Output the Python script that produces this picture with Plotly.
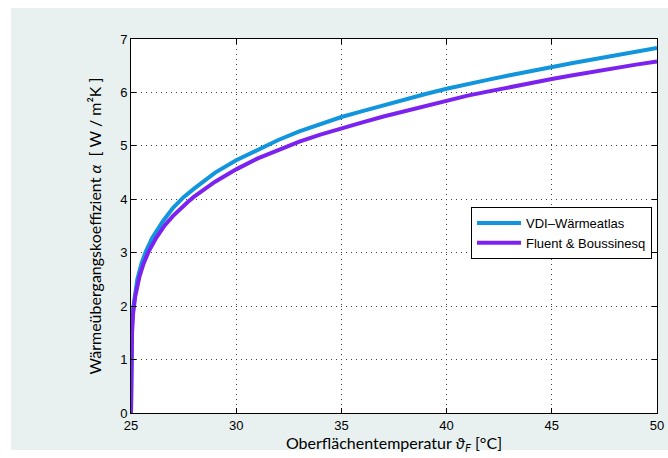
import plotly.graph_objects as go

# Oberflächentemperatur (°C)
temp_vdi = [25.0, 25.01, 25.05, 25.1, 25.2, 25.3, 25.5, 25.7, 26.0, 26.5, 27.0, 27.5, 28.0,
            29.0, 30.0, 31.0, 32.0, 33.0, 34.0, 35.0, 36.0, 37.0, 38.0, 39.0, 40.0,
            41.0, 42.0, 43.0, 44.0, 45.0, 46.0, 47.0, 48.0, 49.0, 50.0]
alpha_vdi = [0.0, 1.3, 1.7, 1.95, 2.3, 2.5, 2.8, 3.02, 3.27, 3.58, 3.84, 4.04, 4.2,
             4.5, 4.73, 4.93, 5.11, 5.27, 5.41, 5.54, 5.65, 5.76, 5.87, 5.97, 6.07,
             6.16, 6.24, 6.32, 6.40, 6.48, 6.55, 6.62, 6.69, 6.76, 6.83]

temp_fluent = [25.0, 25.02, 25.05, 25.1, 25.2, 25.4, 25.6, 25.85, 26.2, 26.6, 27.0, 27.7,
               28.0, 29.0, 30.0, 31.0, 32.0, 33.0, 34.0, 35.0, 36.0, 37.0, 38.0, 39.0,
               40.0, 41.0, 42.0, 43.0, 44.0, 45.0, 46.0, 47.0, 48.0, 49.0, 50.0]
alpha_fluent = [0.0, 1.0, 1.5, 1.86, 2.18, 2.55, 2.8, 3.03, 3.28, 3.51, 3.69, 3.95,
                4.05, 4.33, 4.56, 4.76, 4.93, 5.08, 5.21, 5.33, 5.44, 5.55, 5.65, 5.75,
                5.85, 5.94, 6.02, 6.10, 6.18, 6.25, 6.32, 6.39, 6.46, 6.52, 6.58]

x_ticks = [25, 30, 35, 40, 45, 50]
y_ticks = [0, 1, 2, 3, 4, 5, 6, 7]

fig = go.Figure()
fig.add_trace(go.Scatter(x=temp_vdi, y=alpha_vdi, mode="lines", name="VDI\u2013Wärmeatlas",
                         line=dict(color="#1196de", width=4)))
fig.add_trace(go.Scatter(x=temp_fluent, y=alpha_fluent, mode="lines", name="Fluent &amp; Boussinesq",
                         line=dict(color="#7b22f0", width=4)))

L, R, T, B = 131, 11, 39, 45
W, H = 668, 458
pw, ph = W - L - R, H - T - B

bg = "#e9f1f0"
fig.add_shape(type="rect", xref="paper", yref="paper", layer="below",
              x0=(11 - L) / pw, x1=(W + 5 - L) / pw,
              y0=(H - B - 450) / ph, y1=(H - B - 8) / ph,
              fillcolor=bg, line=dict(width=0))
fig.add_shape(type="rect", xref="paper", yref="paper", layer="below",
              x0=0, x1=1, y0=0, y1=1, fillcolor="white", line=dict(width=0))

axis_common = dict(
    showline=True, linecolor="black", linewidth=1, mirror="ticks",
    ticks="inside", ticklen=5, tickcolor="black", tickwidth=1,
    showgrid=True, gridcolor="#404040", gridwidth=1, griddash="1px,4px",
    zeroline=False, automargin=False,
    tickfont=dict(family="Liberation Sans, Arial", size=13, color="black"),
)

fig.update_xaxes(range=[25, 50], tickvals=x_ticks, ticktext=[str(v) for v in x_ticks],
                 title=dict(text="Oberflächentemperatur <i>ϑ</i><sub><i>F</i></sub> [°C]",
                            font=dict(family="Lato, DejaVu Sans", size=16, color="black"),
                            standoff=4),
                 **axis_common)
fig.update_yaxes(range=[0, 7], tickvals=y_ticks, ticktext=[str(v) for v in y_ticks],
                 title=dict(text="Wärmeübergangskoeffizient <i>α</i>  [ W / m²K ]",
                            font=dict(family="Lato, DejaVu Sans", size=16, color="black"),
                            standoff=14),
                 **axis_common)

fig.update_layout(
    width=W, height=H,
    margin=dict(l=L, r=R, t=T, b=B, pad=0, autoexpand=False),
    paper_bgcolor="white", plot_bgcolor="white",
    showlegend=True,
    legend=dict(x=(652 - L) / pw, xanchor="right", y=(H - B - 207) / ph, yanchor="top",
                bgcolor="white", bordercolor="black", borderwidth=1,
                font=dict(family="Liberation Sans, Arial", size=13, color="black"),
                tracegroupgap=0, itemwidth=44),
)

fig.write_html("out.html")
